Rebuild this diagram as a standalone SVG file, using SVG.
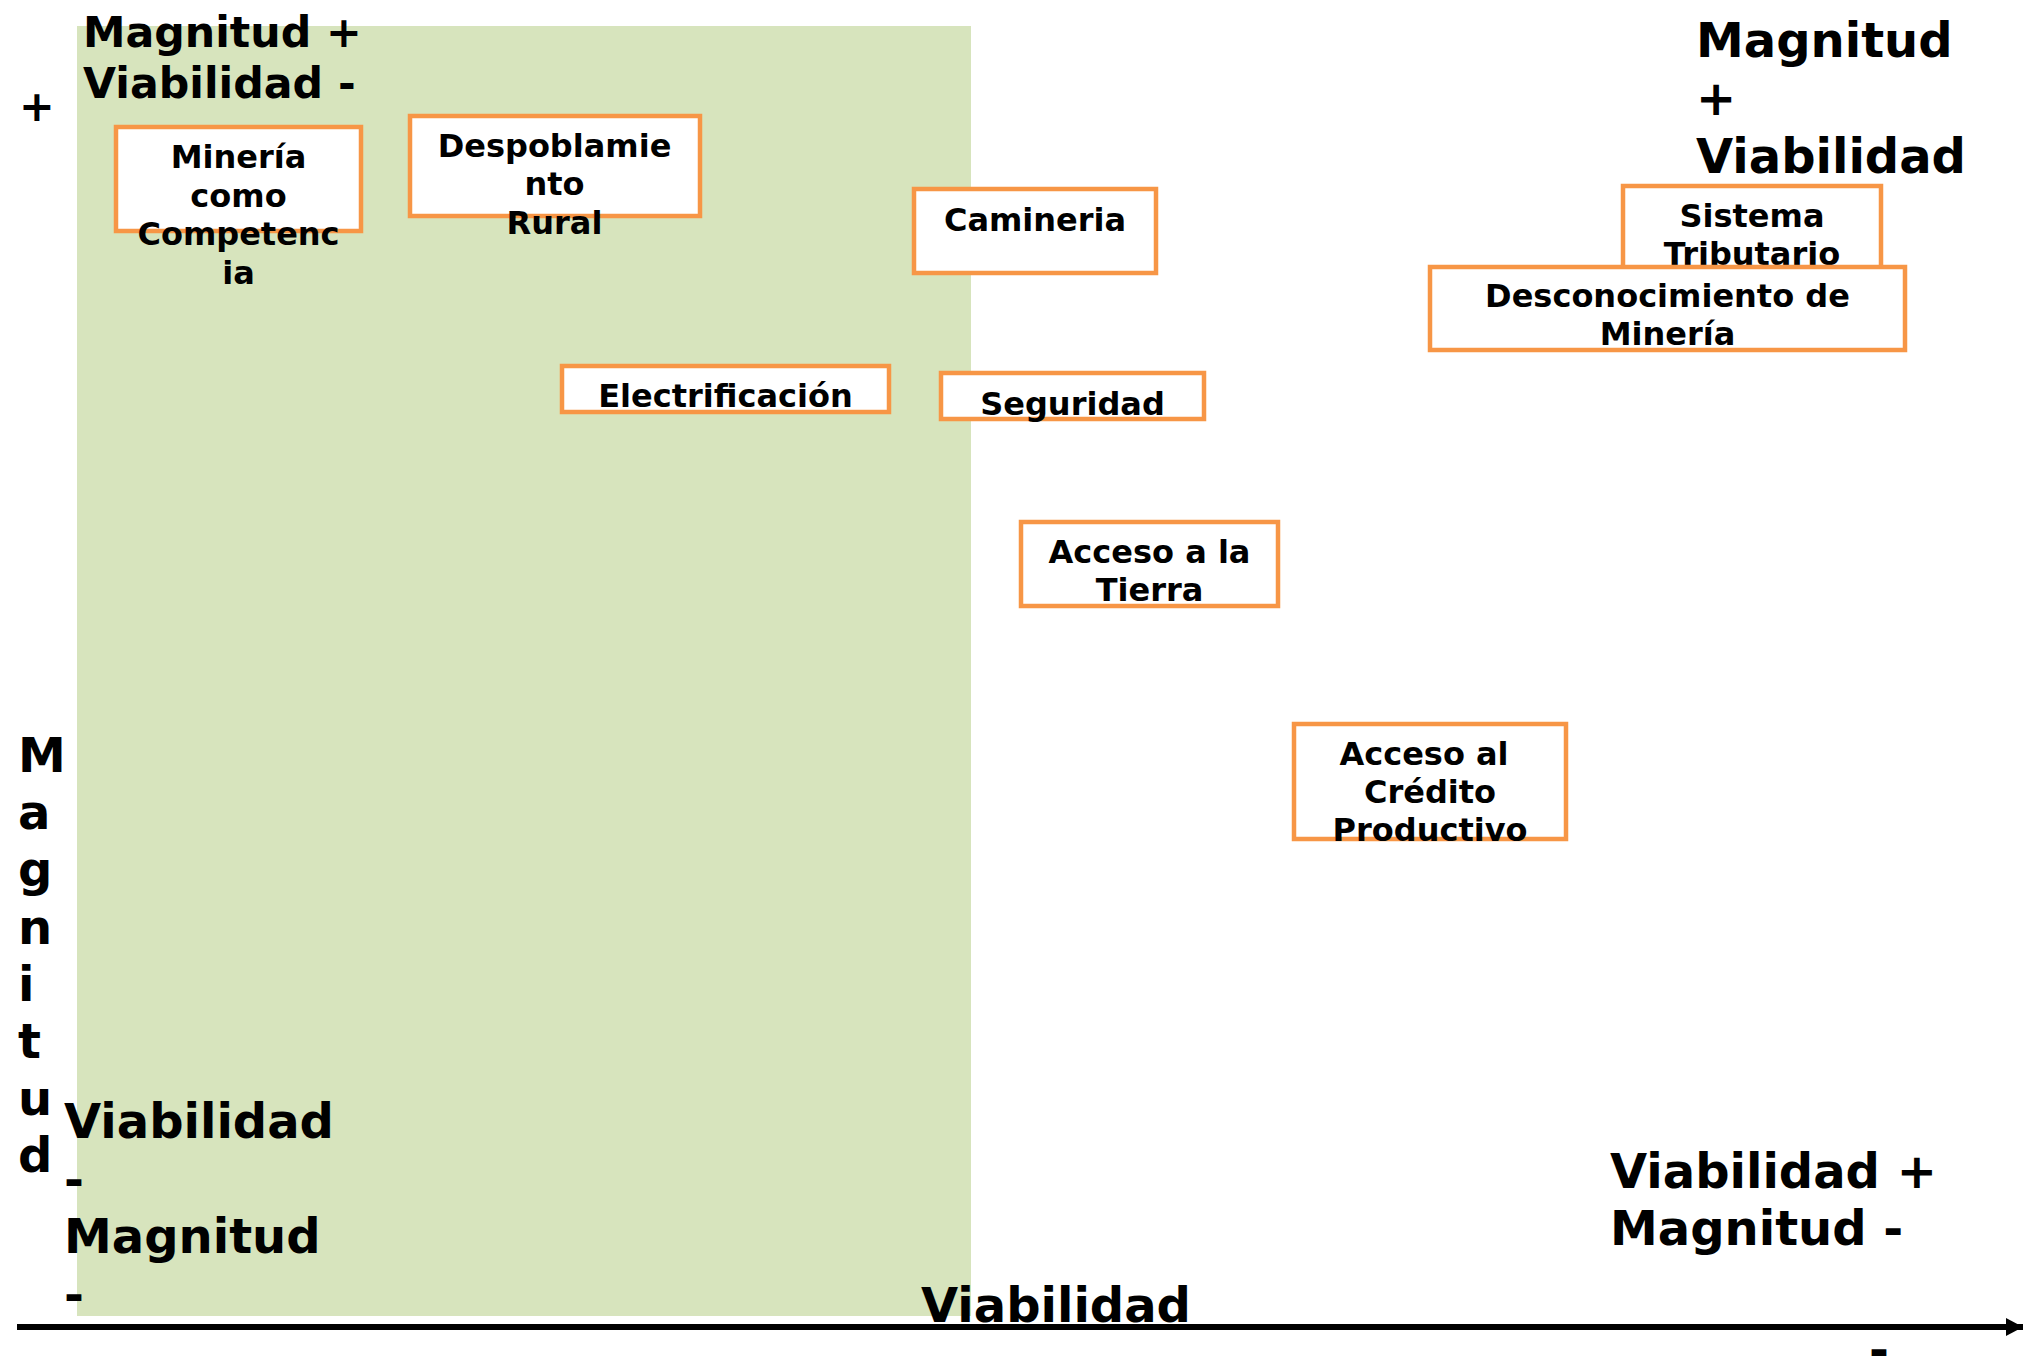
<svg xmlns="http://www.w3.org/2000/svg" width="2041" height="1361" viewBox="0 0 2041 1361">
<style>
.t{font-family:"DejaVu Sans","Liberation Sans",sans-serif;font-weight:bold;fill:#000}
.big{font-size:48px}
.mid{font-size:42.7px}
.nt{font-size:32px;text-anchor:middle}
.box{fill:#fff;stroke:#F79646;stroke-width:4.5}
</style>
<defs>
<marker id="arr" markerUnits="userSpaceOnUse" markerWidth="20" markerHeight="20" refX="17" refY="9" orient="auto">
<path d="M0,0 L17,9 L0,18 Z" fill="#000"/>
</marker>
</defs>
<rect x="0" y="0" width="2041" height="1361" fill="#fff"/>
<rect id="quadrant" x="77" y="26" width="894" height="1290" fill="#D7E4BD"/>

<g id="connectors">
<line x1="17" y1="1327" x2="2023" y2="1327" stroke="#000" stroke-width="6" marker-end="url(#arr)"/>
</g>

<g id="labels">
<text class="t mid" x="83" y="47"><tspan x="83">Magnitud +</tspan><tspan x="83" y="98">Viabilidad -</tspan></text>
<text class="t mid" x="19" y="121">+</text>
<text class="t big" x="1696" y="57"><tspan x="1696">Magnitud</tspan><tspan x="1696" y="115">+</tspan><tspan x="1696" y="173">Viabilidad</tspan></text>
<text class="t big" x="18" y="772"><tspan x="18">M</tspan><tspan x="18" dy="57.2">a</tspan><tspan x="18" dy="57.2">g</tspan><tspan x="18" dy="57.2">n</tspan><tspan x="18" dy="57.2">i</tspan><tspan x="18" dy="57.2">t</tspan><tspan x="18" dy="57.2">u</tspan><tspan x="18" dy="57.2">d</tspan></text>
<text class="t big" x="64" y="1138"><tspan x="64">Viabilidad</tspan><tspan x="64" y="1195.5">-</tspan><tspan x="64" y="1253">Magnitud</tspan><tspan x="64" y="1310.5">-</tspan></text>
<text class="t big" x="921" y="1322">Viabilidad</text>
<text class="t big" x="1610" y="1188"><tspan x="1610">Viabilidad +</tspan><tspan x="1610" y="1245">Magnitud -</tspan></text>
<text class="t big" x="1869" y="1366">-</text>
</g>

<g id="mineria">
<rect class="box" x="116" y="127" width="245" height="104"/>
<text class="t nt" x="238.5" y="168"><tspan x="238.5">Minería</tspan><tspan x="238.5" dy="38.5">como</tspan><tspan x="238.5" dy="38.5">Competenc</tspan><tspan x="238.5" dy="38.5">ia</tspan></text>
</g>
<g id="despoblamiento">
<rect class="box" x="410" y="116" width="290" height="100"/>
<text class="t nt" x="554.5" y="157"><tspan x="554.5">Despoblamie</tspan><tspan x="554.5" dy="38.4">nto</tspan><tspan x="554.5" dy="38.4">Rural</tspan></text>
</g>
<g id="camineria">
<rect class="box" x="914" y="189" width="242" height="84"/>
<text class="t nt" x="1035" y="231">Camineria</text>
</g>
<g id="electrificacion">
<rect class="box" x="562" y="366" width="327" height="46"/>
<text class="t nt" x="725.5" y="407">Electrificación</text>
</g>
<g id="seguridad">
<rect class="box" x="941" y="373" width="263" height="46"/>
<text class="t nt" x="1072.5" y="415">Seguridad</text>
</g>
<g id="sistema">
<rect class="box" x="1623" y="186" width="258" height="110"/>
<text class="t nt" x="1752" y="227"><tspan x="1752">Sistema</tspan><tspan x="1752" dy="38">Tributario</tspan></text>
</g>
<g id="desconocimiento">
<rect class="box" x="1430" y="267" width="475" height="83"/>
<text class="t nt" x="1667.5" y="307"><tspan x="1667.5">Desconocimiento de</tspan><tspan x="1667.5" dy="38">Minería</tspan></text>
</g>
<g id="tierra">
<rect class="box" x="1021" y="522" width="257" height="84"/>
<text class="t nt" x="1149.5" y="563"><tspan x="1149.5">Acceso a la</tspan><tspan x="1149.5" dy="38">Tierra</tspan></text>
</g>
<g id="credito">
<rect class="box" x="1294" y="724" width="272" height="115"/>
<text class="t nt" x="1430" y="765"><tspan x="1424">Acceso al</tspan><tspan x="1430" dy="38">Crédito</tspan><tspan x="1430" dy="38">Productivo</tspan></text>
</g>
</svg>
